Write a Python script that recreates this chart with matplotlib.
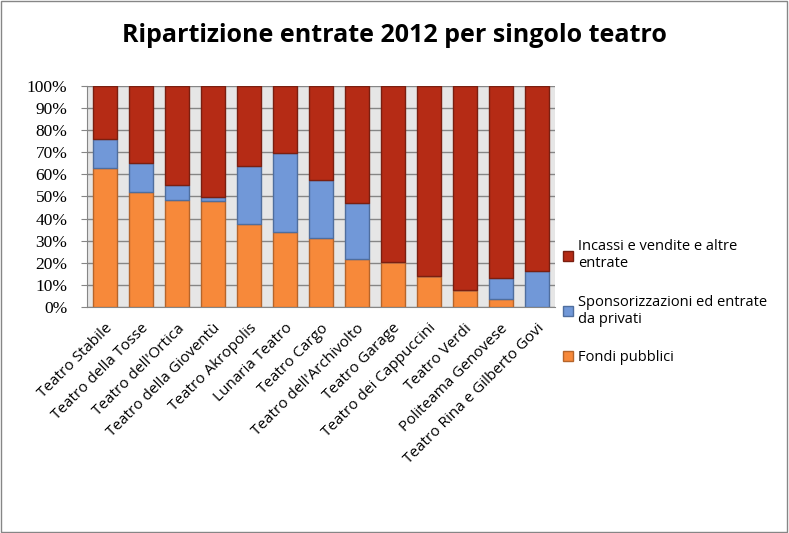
import numpy as np
import matplotlib
matplotlib.use('Agg')
import matplotlib.pyplot as plt
from matplotlib.patches import Patch, Rectangle

# ================================
# DATA
# ================================

teatri = ["Teatro Stabile", "Teatro della Tosse", "Teatro dell'Ortica",
          "Teatro della Gioventù", "Teatro Akropolis", "Lunaria Teatro",
          "Teatro Cargo", "Teatro dell'Archivolto", "Teatro Garage",
          "Teatro dei Cappuccini", "Teatro Verdi", "Politeama Genovese",
          "Teatro Rina e Gilberto Govi"]

fondi_pubblici = [62.8, 52.0, 48.6, 48.0, 37.6, 34.1, 31.0, 21.9, 20.4,
                  14.0, 7.7, 3.6, 0.0]
sponsorizzazioni = [13.2, 13.0, 6.4, 1.7, 26.0, 35.4, 26.3, 25.2, 0.0,
                    0.0, 0.0, 9.5, 16.3]
incassi = [100 - f - s for f, s in zip(fondi_pubblici, sponsorizzazioni)]

series_names = ["Fondi pubblici",
                "Sponsorizzazioni ed entrate\nda privati",
                "Incassi e vendite e altre\nentrate"]
colors = ["#f7893a", "#7198d8", "#b52b15"]
edges = ["#b5652b", "#4f6e9e", "#7a1f10"]

# ================================
# PLOT
# ================================

fig = plt.figure(figsize=(7.89, 5.33), dpi=100)
ax = fig.add_axes([0.110, 0.424, 0.593, 0.415])

x = np.arange(len(teatri))
bottom = np.zeros(len(teatri))
for vals, c, e in zip([fondi_pubblici, sponsorizzazioni, incassi], colors, edges):
    vals = np.array(vals)
    ax.bar(x, vals, bottom=bottom, width=0.66, color=c, edgecolor=e,
           linewidth=1.0, zorder=3)
    bottom += vals

ax.set_facecolor("#e6e6e6")
ax.set_xlim(-0.5, len(teatri) - 0.5)
ax.set_ylim(0, 100)
ax.set_yticks(np.arange(0, 101, 10))
ax.set_yticklabels([f"{v}%" for v in range(0, 101, 10)],
                   family="Liberation Serif", fontsize=12.5)
ax.yaxis.grid(True, color="#868686", linewidth=1.0, zorder=0)
ax.tick_params(axis="y", length=4, color="#868686", pad=10)
ax.tick_params(axis="x", length=0, pad=10)
ax.set_xticks(x)
ax.set_xticklabels(teatri, rotation=45, ha="right", rotation_mode="anchor",
                   family="Open Sans", fontsize=11)
for sp in ["top", "right"]:
    ax.spines[sp].set_visible(False)
for sp in ["left", "bottom"]:
    ax.spines[sp].set_color("#868686")

fig.text(0.5, 0.934, "Ripartizione entrate 2012 per singolo teatro",
         ha="center", va="center", family="Open Sans", fontweight="bold",
         fontsize=18)

handles = [Patch(facecolor=c, edgecolor=e) for c, e in zip(colors, edges)]
leg = fig.legend(handles[::-1], series_names[::-1], loc="upper left",
                 bbox_to_anchor=(0.697, 0.576), frameon=False,
                 prop={"family": "Open Sans", "size": 10.5},
                 handlelength=0.7, handleheight=0.7, handletextpad=0.3,
                 labelspacing=1.6)

# figure border
fig.patches.append(Rectangle((0.001, 0.001), 0.997, 0.997, transform=fig.transFigure,
                             fill=False, edgecolor="#868686", linewidth=1.0))

plt.savefig("out.png", dpi=100)
plt.close()
